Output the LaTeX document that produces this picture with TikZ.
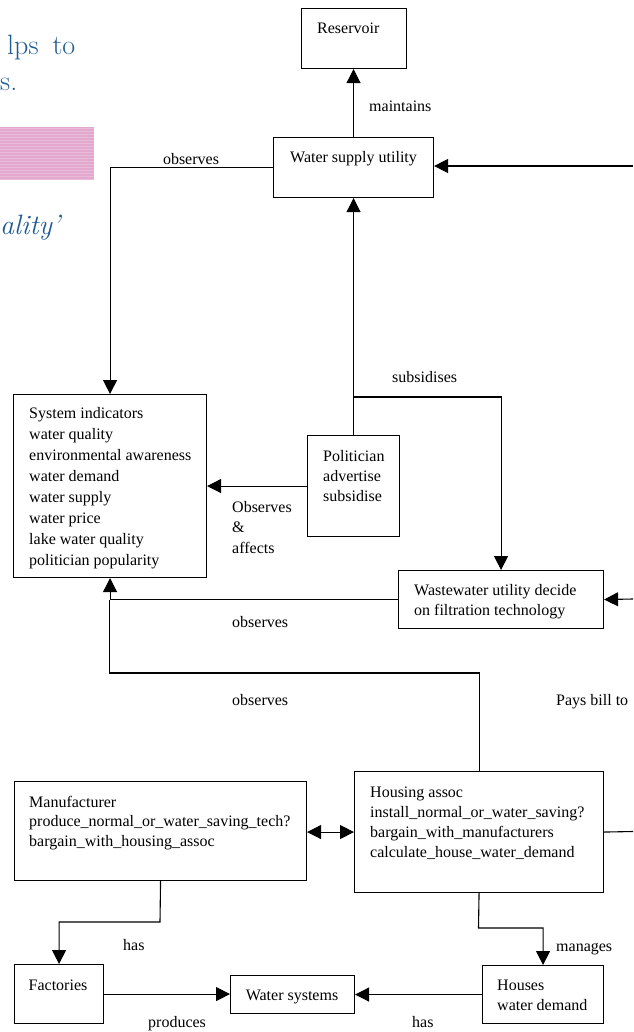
\documentclass[tikz,border=0pt]{standalone}
\usepackage{fontspec}
\newfontfamily\diagfont{Liberation Serif}
\usetikzlibrary{arrows.meta}
\definecolor{slideblue}{RGB}{30,90,150}
\definecolor{bandpink}{RGB}{226,168,206}
\definecolor{bandline}{RGB}{234,186,217}
% several left-aligned lines whose baseline is that of the first line
\newcommand{\boxlines}[1]{\begin{tabular}[t]{@{}l@{}}#1\end{tabular}}

\begin{document}
\begin{tikzpicture}[x=1pt,y=-1pt,
  box/.style={draw, line width=1.1pt, rectangle, inner sep=0pt, anchor=north west},
  lbl/.style={inner sep=0pt, anchor=base west, font=\diagfont\fontsize{16}{20}\selectfont},
  slidetext/.style={inner sep=0pt, anchor=base west, text=slideblue, font=\fontsize{28}{34}\selectfont},
  link/.style={line width=1.1pt},
  arr/.style={link, -{Triangle[length=14pt,width=14pt]}},
  dblarr/.style={link, {Triangle[length=14pt,width=14pt]}-{Triangle[length=14pt,width=14pt]}}]
\useasboundingbox (0,0) rectangle (633,1032);

% slide text and highlight band at the left
\node[slidetext] (t1) at (7,55) {lps\hspace{14pt}to};
\node[slidetext] (t2) at (0,91) {s.};
\fill[bandpink] (0,127) rectangle (94,180);
\foreach \yy in {128,131,...,179} \fill[bandline] (0,\yy) rectangle (94,\yy+1);
\node[slidetext] (t3) at (0,235) {\itshape ality'};

% boxes
\node[box, minimum width=105pt, minimum height=60pt]  (res)  at (301,8)   {};
\node[box, minimum width=160pt, minimum height=60pt]  (wsu)  at (273,137) {};
\node[box, minimum width=193pt, minimum height=183pt] (sys)  at (13,394)  {};
\node[box, minimum width=92pt,  minimum height=101pt] (pol)  at (307,435) {};
\node[box, minimum width=205pt, minimum height=58pt]  (ww)   at (398,570) {};
\node[box, minimum width=292pt, minimum height=99pt]  (manu) at (14,781)  {};
\node[box, minimum width=249pt, minimum height=121pt] (hass) at (354,771) {};
\node[box, minimum width=89pt,  minimum height=59pt]  (fac)  at (14,964)  {};
\node[box, minimum width=124pt, minimum height=38pt]  (wsys) at (230,975) {};
\node[box, minimum width=121pt, minimum height=58pt]  (hous) at (482,965) {};

% box texts
\node[lbl] (res-t)  at (317,34)  {Reservoir};
\node[lbl] (wsu-t)  at (290,163) {Water supply utility};
\node[lbl, font=\diagfont\fontsize{16}{21}\selectfont] (sys-t) at (29,418)
  {\boxlines{System indicators\\water quality\\environmental awareness\\water demand\\water supply\\water price\\lake water quality\\politician popularity}};
\node[lbl] (pol-t)  at (323,461) {\boxlines{Politician\\advertise\\subsidise}};
\node[lbl] (ww-t)   at (414,595) {\boxlines{Wastewater utility decide\\on filtration technology}};
\node[lbl, font=\diagfont\fontsize{16}{19.5}\selectfont] (manu-t) at (29,807)
  {\boxlines{Manufacturer\\produce\_normal\_or\_water\_saving\_tech?\\bargain\_with\_housing\_assoc}};
\node[lbl] (hass-t) at (370,797) {\boxlines{Housing assoc\\install\_normal\_or\_water\_saving?\\bargain\_with\_manufacturers\\calculate\_house\_water\_demand}};
\node[lbl, anchor=base] (fac-t) at (58,990) {Factories};
\node[lbl, anchor=base] (wsys-t) at (292,1000) {Water systems};
\node[lbl, font=\diagfont\fontsize{16}{20.7}\selectfont] (hous-t) at (497,990) {\boxlines{Houses\\water demand}};

% connector labels
\node[lbl] (l-maint)  at (369,112)  {maintains};
\node[lbl, anchor=base] (l-obs1) at (191,165) {observes};
\node[lbl] (l-subs)   at (392,382)  {subsidises};
\node[lbl, font=\diagfont\fontsize{16}{20.5}\selectfont] (l-oba) at (232,512) {\boxlines{Observes\\\&\\affects}};
\node[lbl] (l-obs2)   at (232,627)  {observes};
\node[lbl] (l-obs3)   at (232,705)  {observes};
\node[lbl] (l-pays)   at (556,705)  {Pays bill to};
\node[lbl] (l-has1)   at (123,950)  {has};
\node[lbl] (l-manag)  at (556,951)  {manages};
\node[lbl] (l-prod)   at (148,1027) {produces};
\node[lbl] (l-has2)   at (412,1027) {has};

% routing points
\coordinate (rin1)  at (633,166);
\coordinate (rin2)  at (633,599);
\coordinate (rout)  at (633,831.5);
\coordinate (subj)  at (353,397);
\coordinate (obsj)  at (109.5,673);
\coordinate (mbend) at (160,922);
\coordinate (hbend) at (478.5,928);

% connectors
\draw[arr] (wsu.north) -- (wsu.north |- res.south);
\draw[arr] (rin1) -- (rin1 -| wsu.east);
\draw[arr] (wsu.west) -| (sys.north);
\draw[arr] (pol.north) -- (wsu.south);
\draw[arr] (subj) -| (ww.north);
\draw[arr] (pol.west) -- (pol.west -| sys.east);
\draw[arr] (ww.west) -| (sys.south);
\draw[link] (hass.north) |- (obsj) -- (obsj |- ww.west);
\draw[arr] (rin2) -- (ww.east);
\draw[link] (hass.east) -- (rout);
\draw[dblarr] (manu.east |- hass.west) -- (hass.west);
\draw[arr] (manu.south) -- (mbend) -| (fac.north);
\draw[arr] (hass.south) -- (hbend) -| (hous.north);
\draw[arr] (fac.east) -- (fac.east -| wsys.west);
\draw[arr] (hous.west) -- (hous.west -| wsys.east);
\end{tikzpicture}
\end{document}
